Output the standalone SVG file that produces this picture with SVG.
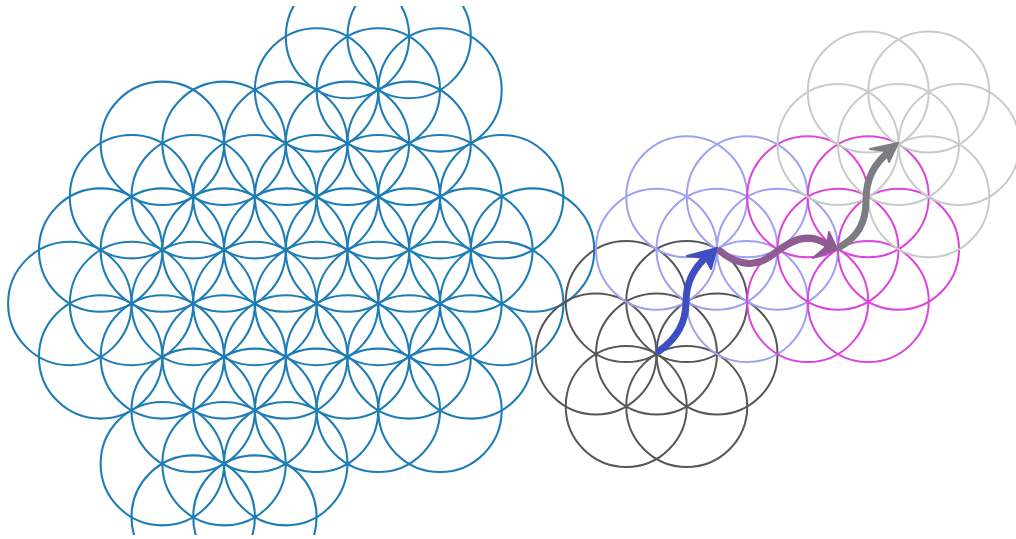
<svg xmlns="http://www.w3.org/2000/svg" width="1016" height="539" viewBox="0 0 1016 539">
<defs>
<style>
.b{fill:none;stroke:#1f7db5;stroke-width:2.1}
.g{fill:none;stroke:#575757;stroke-width:2}
.l{fill:none;stroke:#9ea2f0;stroke-width:2}
.m{fill:none;stroke:#dd44dc;stroke-width:2}
.s{fill:none;stroke:#c5cec6;stroke-width:2}
.ar{fill:none;stroke-linecap:round;stroke-linejoin:round}
</style>
<clipPath id="clipB"><rect x="0" y="6" width="1016" height="529"/></clipPath>
</defs>
<rect width="1016" height="539" fill="#ffffff"/>
<g id="blue-flower" clip-path="url(#clipB)">
<circle class="b" cx="347.45" cy="36.5" r="61.7"/><circle class="b" cx="409.15" cy="36.5" r="61.7"/>
<circle class="b" cx="316.6" cy="89.9" r="61.7"/><circle class="b" cx="378.3" cy="89.9" r="61.7"/><circle class="b" cx="440" cy="89.9" r="61.7"/>
<circle class="b" cx="162.35" cy="143.3" r="61.7"/><circle class="b" cx="224.05" cy="143.3" r="61.7"/><circle class="b" cx="285.75" cy="143.3" r="61.7"/><circle class="b" cx="347.45" cy="143.3" r="61.7"/><circle class="b" cx="409.15" cy="143.3" r="61.7"/>
<circle class="b" cx="131.5" cy="196.7" r="61.7"/><circle class="b" cx="193.2" cy="196.7" r="61.7"/><circle class="b" cx="254.9" cy="196.7" r="61.7"/><circle class="b" cx="316.6" cy="196.7" r="61.7"/><circle class="b" cx="378.3" cy="196.7" r="61.7"/><circle class="b" cx="440" cy="196.7" r="61.7"/><circle class="b" cx="501.7" cy="196.7" r="61.7"/>
<circle class="b" cx="100.65" cy="250.1" r="61.7"/><circle class="b" cx="162.35" cy="250.1" r="61.7"/><circle class="b" cx="224.05" cy="250.1" r="61.7"/><circle class="b" cx="285.75" cy="250.1" r="61.7"/><circle class="b" cx="347.45" cy="250.1" r="61.7"/><circle class="b" cx="409.15" cy="250.1" r="61.7"/><circle class="b" cx="470.85" cy="250.1" r="61.7"/><circle class="b" cx="532.55" cy="250.1" r="61.7"/>
<circle class="b" cx="69.8" cy="303.5" r="61.7"/><circle class="b" cx="131.5" cy="303.5" r="61.7"/><circle class="b" cx="193.2" cy="303.5" r="61.7"/><circle class="b" cx="254.9" cy="303.5" r="61.7"/><circle class="b" cx="316.6" cy="303.5" r="61.7"/><circle class="b" cx="378.3" cy="303.5" r="61.7"/><circle class="b" cx="440" cy="303.5" r="61.7"/><circle class="b" cx="501.7" cy="303.5" r="61.7"/>
<circle class="b" cx="100.65" cy="356.9" r="61.7"/><circle class="b" cx="162.35" cy="356.9" r="61.7"/><circle class="b" cx="224.05" cy="356.9" r="61.7"/><circle class="b" cx="285.75" cy="356.9" r="61.7"/><circle class="b" cx="347.45" cy="356.9" r="61.7"/><circle class="b" cx="409.15" cy="356.9" r="61.7"/><circle class="b" cx="470.85" cy="356.9" r="61.7"/>
<circle class="b" cx="193.2" cy="410.3" r="61.7"/><circle class="b" cx="254.9" cy="410.3" r="61.7"/><circle class="b" cx="316.6" cy="410.3" r="61.7"/><circle class="b" cx="378.3" cy="410.3" r="61.7"/><circle class="b" cx="440" cy="410.3" r="61.7"/>
<circle class="b" cx="162.35" cy="463.7" r="61.7"/><circle class="b" cx="224.05" cy="463.7" r="61.7"/><circle class="b" cx="285.75" cy="463.7" r="61.7"/>
<circle class="b" cx="193.2" cy="517.1" r="61.7"/><circle class="b" cx="254.9" cy="517.1" r="61.7"/>
</g>
<g id="seed-gray">
<circle class="g" cx="656.5" cy="354" r="60.5"/><circle class="g" cx="596" cy="354" r="60.5"/><circle class="g" cx="717" cy="354" r="60.5"/>
<circle class="g" cx="626.25" cy="301.6" r="60.5"/><circle class="g" cx="686.75" cy="301.6" r="60.5"/>
<circle class="g" cx="626.25" cy="406.4" r="60.5"/><circle class="g" cx="686.75" cy="406.4" r="60.5"/>
</g>
<g id="seed-lavender">
<circle class="l" cx="717" cy="249.2" r="60.5"/><circle class="l" cx="656.5" cy="249.2" r="60.5"/><circle class="l" cx="777.5" cy="249.2" r="60.5"/>
<circle class="l" cx="686.75" cy="196.8" r="60.5"/><circle class="l" cx="747.25" cy="196.8" r="60.5"/>
<circle class="l" cx="747.25" cy="301.6" r="60.5"/>
</g>
<g id="seed-magenta">
<circle class="m" cx="838" cy="249.2" r="60.5"/><circle class="m" cx="898.5" cy="249.2" r="60.5"/>
<circle class="m" cx="807.75" cy="196.8" r="60.5"/><circle class="m" cx="868.25" cy="196.8" r="60.5"/>
<circle class="m" cx="807.75" cy="301.6" r="60.5"/><circle class="m" cx="868.25" cy="301.6" r="60.5"/>
</g>
<g id="seed-sage">
<circle class="s" cx="898.5" cy="144.4" r="60.5"/><circle class="s" cx="838" cy="144.4" r="60.5"/><circle class="s" cx="959" cy="144.4" r="60.5"/>
<circle class="s" cx="868.25" cy="92" r="60.5"/><circle class="s" cx="928.75" cy="92" r="60.5"/>
<circle class="s" cx="928.75" cy="196.8" r="60.5"/>
</g>
<g id="connectors">
<g stroke="#3d4ec2" fill="#3d4ec2">
<path class="ar" stroke-width="7" d="M659,351 C675,340 686,325 686,302 C686,285 692,268 710,254"/>
<polygon stroke-width="2" stroke-linejoin="round" points="717,248 687,256 705,258 711,269"/>
</g>
<g stroke="#8e5c93" fill="#8e5c93">
<path class="ar" stroke-width="7" d="M720,251 C733,262 750,268 766,259 C778,252 785,243 800,239 C812,236 820,240 830,246"/>
<polygon stroke-width="2" stroke-linejoin="round" points="837,249 829,232 827,246 813,258"/>
</g>
<g stroke="#7c7c82" fill="#7c7c82">
<path class="ar" stroke-width="7" d="M840,247 C857,237 866,224 866,200 C866,180 873,164 892,149"/>
<polygon stroke-width="2" stroke-linejoin="round" points="898,143 870,149 886,151 889,162"/>
</g>
</g>
</svg>
